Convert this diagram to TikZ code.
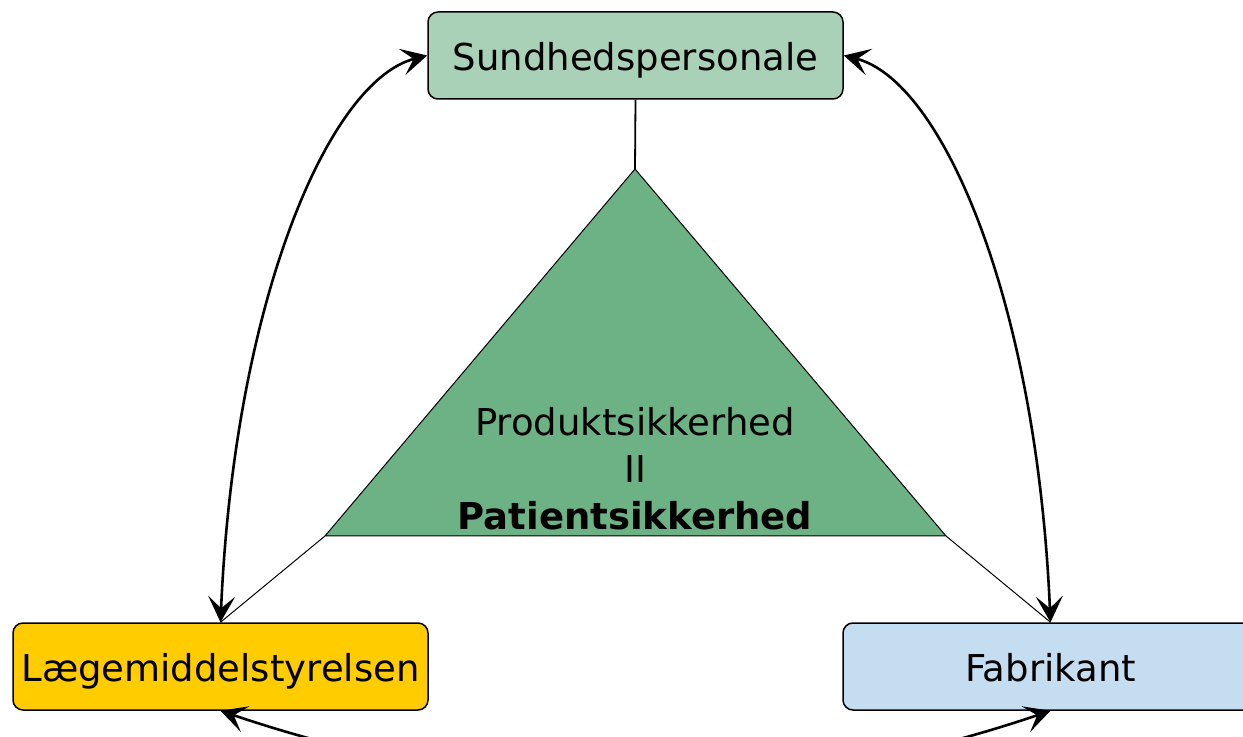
\documentclass[tikz,border=0pt]{standalone}
\usepackage{fontspec}
\setmainfont{DejaVu Sans}
\usetikzlibrary{arrows.meta}

\definecolor{sundgreen}{HTML}{A8D1B7}
\definecolor{trigreen}{HTML}{6DB284}
\definecolor{lmsyellow}{HTML}{FFCC00}
\definecolor{fabblue}{HTML}{C5DDF0}

\begin{document}
\begin{tikzpicture}[x=0.5pt, y=-0.5pt,
    every node/.style={font=\fontsize{18.5}{23.5}\selectfont},
    box/.style={draw, line width=0.75pt, rounded corners=5pt, minimum width=207.5pt,
        minimum height=43.5pt, inner sep=0pt, text height=15pt, text depth=0pt},
    link/.style={line width=1.3pt,
        {Stealth[length=13pt,width=13.5pt,inset=6pt]}-{Stealth[length=13pt,width=13.5pt,inset=6pt]}},
    thinline/.style={line width=0.5pt}]
    \useasboundingbox (0,0) rectangle (1243,737);

    % Draw triangle
    \coordinate (apex) at (635,169);
    \coordinate (baseL) at (325,536);
    \coordinate (baseR) at (946,536);
    \filldraw[fill=trigreen, thinline] (apex) -- (baseR) -- (baseL) -- cycle;
    \node[align=center] (safety) at (635,469) {Produktsikkerhed\\II\\\textbf{Patientsikkerhed}};

    % Draw boxes
    \node[box, fill=sundgreen] (sund) at (635.5,55.5) {Sundhedspersonale};
    \node[box, fill=lmsyellow] (lms) at (220.5,666.5) {Lægemiddelstyrelsen};
    \node[box, fill=fabblue] (fab) at (1050.5,666.5) {Fabrikant};

    % Draw lines from triangle to boxes
    \draw[line width=0.9pt] (sund.south) -- (apex);
    \draw[thinline] (baseL) -- (lms.north);
    \draw[thinline] (baseR) -- (fab.north);

    % Draw curved arrows
    \draw[link] (lms.north) .. controls +(14,-323) and +(-98,25) .. (sund.west);
    \draw[link] (fab.north) .. controls +(-14,-323) and +(98,25) .. (sund.east);
    \draw[link] (lms.south) .. controls +(280,95) and +(-280,95) .. (fab.south);
\end{tikzpicture}
\end{document}
